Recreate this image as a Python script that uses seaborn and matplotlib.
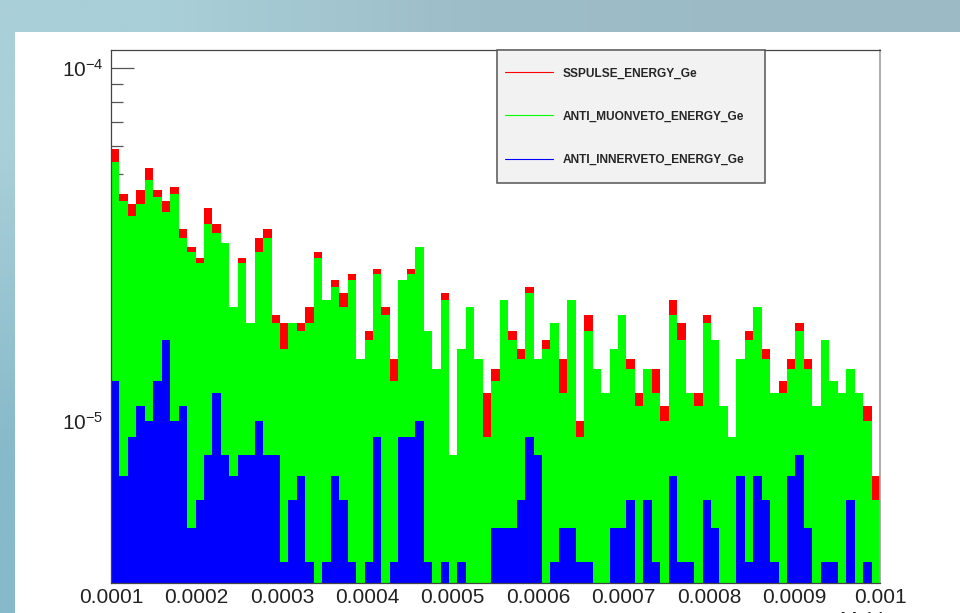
import numpy as np
import pandas as pd
import matplotlib
matplotlib.use("Agg")
import matplotlib.pyplot as plt
import seaborn as sns
from matplotlib.lines import Line2D
from matplotlib.patches import Rectangle
from matplotlib.colors import to_rgb
from matplotlib.legend_handler import HandlerLine2D

# -------------------------
# Data: entries per bin (91 bins from 0.0001 to 0.001), weight 1e-6 each
# -------------------------
sspulse = [59, 44, 41, 45, 52, 45, 42, 46, 35, 31, 29, 40, 36, 32, 21, 29, 19, 33, 35, 20,
           19, 19, 19, 21, 30, 22, 25, 23, 26, 15, 18, 27, 21, 15, 25, 27, 31, 18, 14, 23,
           8, 16, 21, 15, 12, 14, 22, 18, 16, 24, 15, 17, 19, 15, 22, 10, 20, 14, 12, 16,
           20, 15, 12, 14, 14, 11, 22, 19, 12, 12, 20, 17, 11, 9, 15, 18, 21, 16, 12, 13,
           15, 19, 15, 11, 17, 13, 12, 14, 12, 11, 7]
muonveto = [54, 42, 38, 41, 48, 43, 39, 44, 33, 30, 28, 36, 34, 32, 21, 28, 19, 30, 33, 19,
            16, 19, 18, 19, 29, 22, 24, 21, 25, 15, 17, 26, 20, 13, 25, 26, 31, 18, 14, 22,
            8, 16, 21, 15, 9, 13, 22, 17, 15, 23, 15, 16, 19, 12, 22, 9, 18, 14, 12, 16,
            20, 14, 11, 14, 12, 10, 20, 17, 12, 11, 19, 17, 11, 9, 15, 17, 21, 15, 12, 12,
            14, 18, 14, 11, 17, 13, 12, 14, 12, 10, 6]
innerveto = [13, 7, 9, 11, 10, 13, 17, 10, 11, 5, 6, 8, 12, 8, 7, 8, 8, 10, 8, 8,
             4, 6, 7, 4, 0, 4, 7, 6, 4, 0, 4, 9, 0, 4, 9, 9, 10, 4, 0, 4,
             0, 4, 0, 0, 0, 5, 5, 5, 6, 9, 8, 0, 4, 5, 5, 4, 4, 0, 0, 5,
             5, 6, 0, 6, 4, 0, 7, 4, 4, 0, 6, 5, 0, 0, 7, 4, 7, 6, 4, 0,
             7, 8, 5, 0, 4, 4, 0, 6, 0, 4, 0]
weight = 1e-6

series_labels = ["SSPULSE_ENERGY_Ge", "ANTI_MUONVETO_ENERGY_Ge", "ANTI_INNERVETO_ENERGY_Ge"]
series_colors = ["#ff0000", "#00ff00", "#0000ff"]
x_range = (0.0001, 0.001)
x_ticks = [0.0001, 0.0002, 0.0003, 0.0004, 0.0005, 0.0006, 0.0007, 0.0008, 0.0009, 0.001]
x_tick_labels = ["0.0001", "0.0002", "0.0003", "0.0004", "0.0005",
                 "0.0006", "0.0007", "0.0008", "0.0009", "0.001"]

sns.set_style("white")
plt.rcParams["font.family"] = ["Liberation Sans", "DejaVu Sans"]
plt.rcParams["mathtext.fontset"] = "custom"
plt.rcParams["mathtext.rm"] = "Liberation Sans"
plt.rcParams["mathtext.it"] = "Liberation Sans:italic"
plt.rcParams["mathtext.bf"] = "Liberation Sans:bold"

W, H = 960, 613
fig = plt.figure(figsize=(W / 100, H / 100), dpi=100)

# slide background + white canvas
bg = fig.add_axes([0, 0, 1, 1], zorder=-10)
grad = np.array([[to_rgb("#a9cfd9"), to_rgb("#9dbdc8"), to_rgb("#9bbac5")],
                 [to_rgb("#86b9c9"), to_rgb("#93b9c5"), to_rgb("#93b6c2")]])
bg.imshow(grad, extent=[0, 1, 0, 1], aspect="auto", interpolation="bilinear")
bg.add_patch(Rectangle((15 / W, 0), 1, (H - 32) / H, color="white", lw=0))
bg.set_xlim(0, 1)
bg.set_ylim(0, 1)
bg.axis("off")

# plot frame
ax = fig.add_axes([111 / W, (H - 582.7) / H, (880 - 111) / W, (582.7 - 49.5) / H])

n_bins = len(sspulse)
step = (x_range[1] - x_range[0]) / n_bins
centers = x_range[0] + step * (np.arange(n_bins) + 0.5)
df = pd.DataFrame({
    "energy": centers,
    "SSPULSE": np.array(sspulse) * weight,
    "MUONVETO": np.array(muonveto) * weight,
    "INNERVETO": np.array(innerveto) * weight,
})
for col, color in zip(["SSPULSE", "MUONVETO", "INNERVETO"], series_colors):
    sns.histplot(data=df, x="energy", weights=col, bins=n_bins, binrange=x_range,
                 element="step", fill=True, color=color, alpha=1,
                 linewidth=0, ax=ax)

ax.set_yscale("log")
ax.set_ylim(3.49e-6, 1.125e-4)
ax.set_xlim(*x_range)
ax.set_xlabel("")
ax.set_ylabel("")
ax.set_axisbelow(True)

ax.set_xticks(x_ticks)
ax.set_xticklabels(x_tick_labels)
ax.tick_params(axis="x", bottom=False, length=0, pad=4, labelsize=15, colors="#222222")
ax.tick_params(axis="y", which="both", left=True, right=False)
ax.tick_params(axis="y", which="major", direction="in", length=16.5, width=0.9,
               color="#555555", pad=5.5, labelsize=15, labelcolor="#222222")
ax.tick_params(axis="y", which="minor", direction="in", length=8.5, width=0.9,
               color="#555555")
ax.yaxis.set_minor_formatter(matplotlib.ticker.NullFormatter())

for side in ["left", "top", "bottom"]:
    ax.spines[side].set_color("#444444")
    ax.spines[side].set_linewidth(0.9)
ax.spines["right"].set_color("#a0a0a0")
ax.spines["right"].set_linewidth(1.2)

# legend: keep the sample line level with the middle of the label text
legend_fs = 8.6


def center_line(legend_line, orig_handle):
    legend_line.update_from(orig_handle)
    legend_line.set_ydata(np.full(len(legend_line.get_xdata()), 0.36 * legend_fs))


handles = [Line2D([], [], color=c, lw=0.8) for c in series_colors]
leg = ax.legend(handles, series_labels, loc="upper left",
                bbox_to_anchor=(497 / W, 1 - 183 / H, (765 - 497) / W, (183 - 50) / H),
                bbox_transform=fig.transFigure, mode="expand",
                prop=dict(weight="bold", size=legend_fs), frameon=True, fancybox=False,
                borderpad=0.7, handlelength=4.0, handletextpad=0.81, handleheight=3.4,
                labelspacing=1.17, borderaxespad=0,
                handler_map={Line2D: HandlerLine2D(update_func=center_line)})
frame = leg.get_frame()
frame.set_facecolor("#f2f2f2")
frame.set_edgecolor("#555555")
frame.set_alpha(1)
frame.set_linewidth(1.1)

fig.text(882 / W, 1 - 626 / H, "MeV", ha="right", va="baseline", fontsize=15,
         color="#222222")

fig.savefig("out.png", dpi=100)
plt.close()
